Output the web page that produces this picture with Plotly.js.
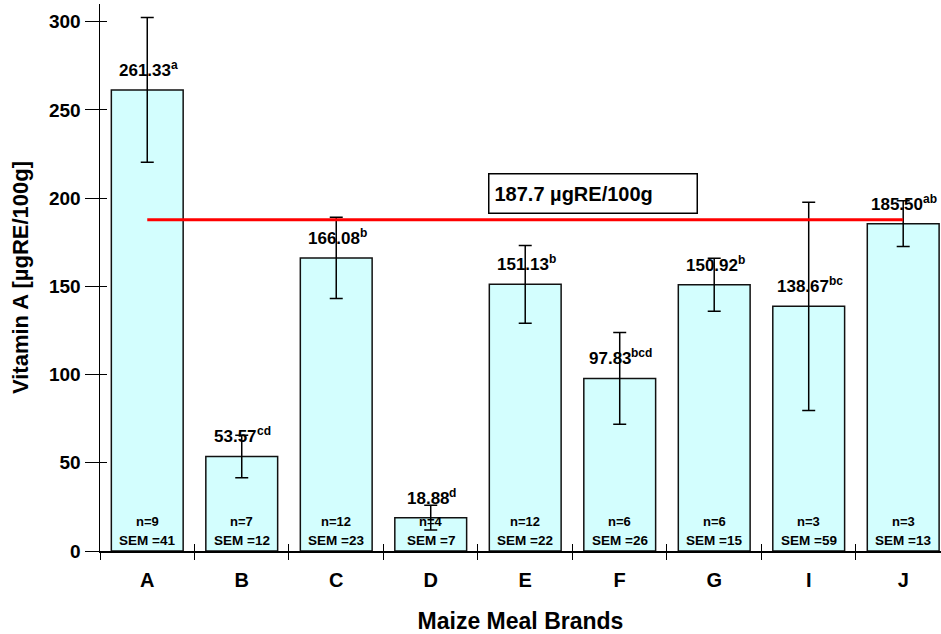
<!DOCTYPE html>
<html>
<head>
<meta charset="utf-8">
<script src="https://cdn.plot.ly/plotly-3.0.1.min.js"></script>
<style>
html,body{margin:0;padding:0;background:#fff;}
#chart{width:941px;height:634px;}
</style>
</head>
<body>
<div id="chart"></div>
<script>
// ---- data ----
const brands = ['A', 'B', 'C', 'D', 'E', 'F', 'G', 'I', 'J'];
const vitaminA = [261.33, 53.57, 166.08, 18.88, 151.13, 97.83, 150.92, 138.67, 185.50];
const sem = [41, 12, 23, 7, 22, 26, 15, 59, 13];
const sampleN = [9, 7, 12, 4, 12, 6, 6, 3, 3];
const groupLetters = ['a', 'cd', 'b', 'd', 'b', 'bcd', 'b', 'bc', 'ab'];
const targetValue = 187.7;
const targetLabel = '187.7 µgRE/100g';
const yTickVals = [0, 50, 100, 150, 200, 250, 300];

const FONT = 'Liberation Sans, Arial, sans-serif';
const LABEL_SIZE = 17;
const SUP_SIZE = 12;

// text width measurement for centring value + superscript letters
const ctx = document.createElement('canvas').getContext('2d');
function textWidth(str, size) {
  ctx.font = 'bold ' + size + 'px "Liberation Sans", Arial, sans-serif';
  return ctx.measureText(str).width;
}

const bars = {
  type: 'bar',
  x: brands,
  y: vitaminA,
  marker: {color: '#d3fefe', line: {color: '#111111', width: 1.5}},
  error_y: {type: 'data', array: sem, visible: true, color: '#000000', thickness: 1.5, width: 6.5},
  hoverinfo: 'x+y',
  showlegend: false
};

const targetLine = {
  type: 'scatter',
  mode: 'lines',
  x: [brands[0], brands[brands.length - 1]],
  y: [targetValue, targetValue],
  line: {color: '#ff0000', width: 3},
  hoverinfo: 'skip',
  showlegend: false
};

const tickHelper = {
  type: 'scatter', mode: 'markers', x: [null], y: [null],
  xaxis: 'x2', yaxis: 'y2', hoverinfo: 'skip', showlegend: false
};

const annotations = [];
brands.forEach((b, i) => {
  const valText = vitaminA[i].toFixed(2);
  const wN = textWidth(valText, LABEL_SIZE);
  const wS = textWidth(groupLetters[i], SUP_SIZE);
  const startShift = -(wN + wS) / 2;
  annotations.push({
    x: b, y: vitaminA[i], xref: 'x', yref: 'y',
    text: valText,
    showarrow: false, xanchor: 'left', yanchor: 'bottom',
    xshift: startShift, yshift: 9, borderpad: 0,
    font: {family: FONT, size: LABEL_SIZE, color: '#000', weight: 'bold'}
  });
  annotations.push({
    x: b, y: vitaminA[i], xref: 'x', yref: 'y',
    text: groupLetters[i],
    showarrow: false, xanchor: 'left', yanchor: 'bottom',
    xshift: startShift + wN, yshift: 17, borderpad: 0,
    font: {family: FONT, size: SUP_SIZE, color: '#000', weight: 'bold'}
  });
  annotations.push({
    x: b, y: 0, xref: 'x', yref: 'y',
    text: 'n=' + sampleN[i],
    showarrow: false, yanchor: 'bottom', yshift: 20,
    font: {family: FONT, size: 13, color: '#000', weight: 'bold'}
  });
  annotations.push({
    x: b, y: 0, xref: 'x', yref: 'y',
    text: 'SEM =' + sem[i],
    showarrow: false, yanchor: 'bottom', yshift: 1,
    font: {family: FONT, size: 13.5, color: '#000', weight: 'bold'}
  });
});
annotations.push({
  x: 4.72, y: 202.5, xref: 'x', yref: 'y',
  text: targetLabel, showarrow: false,
  xanchor: 'center', yanchor: 'middle',
  width: 197, height: 28, align: 'left',
  bordercolor: '#000', borderwidth: 1.5, borderpad: 5, bgcolor: '#fff',
  font: {family: FONT, size: 20, color: '#000', weight: 'bold'}
});

const layout = {
  width: 941, height: 634,
  margin: {l: 100, r: 0, t: 4, b: 83},
  paper_bgcolor: '#fff', plot_bgcolor: '#fff',
  bargap: 0.24,
  showlegend: false,
  xaxis: {
    type: 'category', categoryarray: brands, categoryorder: 'array',
    range: [-0.5, 8.4], tickson: 'boundaries',
    ticks: 'outside', ticklen: 7, tickwidth: 1, tickcolor: '#000',
    ticklabelstandoff: 10,
    showline: true, linecolor: '#000', linewidth: 1.5,
    showgrid: false, zeroline: false,
    tickfont: {family: FONT, size: 20, color: '#000', weight: 'bold'},
    title: {text: 'Maize Meal Brands', standoff: 24,
      font: {family: FONT, size: 23, color: '#000', weight: 'bold'}}
  },
  yaxis: {
    range: [0, 310], tickvals: yTickVals,
    ticks: 'outside', ticklen: 14, tickwidth: 1, tickcolor: '#000',
    showline: true, linecolor: '#000', linewidth: 1.5,
    showgrid: false, zeroline: false,
    tickfont: {family: FONT, size: 19, color: '#000', weight: 'bold'},
    title: {text: 'Vitamin A [µgRE/100g]', standoff: 14,
      font: {family: FONT, size: 22, color: '#000', weight: 'bold'}}
  },
  xaxis2: {
    overlaying: 'x', anchor: 'y2', range: [-0.5, 8.4],
    tick0: 0.5, dtick: 1, ticks: 'inside', ticklen: 7, tickwidth: 1, tickcolor: '#000',
    showticklabels: false, showline: false, showgrid: false, zeroline: false, side: 'bottom'
  },
  yaxis2: {
    overlaying: 'y', anchor: 'x2', range: [0, 310],
    tickvals: yTickVals, ticks: 'inside', ticklen: 7, tickwidth: 1, tickcolor: '#000',
    showticklabels: false, showline: false, showgrid: false, zeroline: false, side: 'left'
  },
  annotations: annotations
};

Plotly.newPlot('chart', [bars, targetLine, tickHelper], layout, {displayModeBar: false, staticPlot: true});
</script>
</body>
</html>
